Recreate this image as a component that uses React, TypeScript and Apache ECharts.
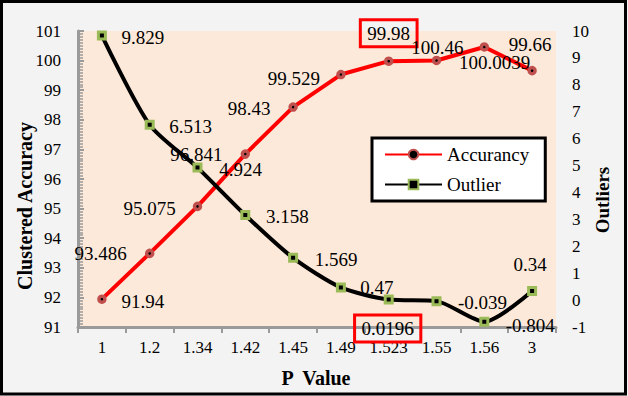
import React, { useEffect, useRef } from "react";
import * as echarts from "echarts";

const categories = ["1", "1.2", "1.34", "1.42", "1.45", "1.49", "1.523", "1.55", "1.56", "3"];
const accuracy = [91.94, 93.486, 95.075, 96.841, 98.43, 99.529, 99.98, 100.0039, 100.46, 99.66];
const outliers = [9.829, 6.513, 4.924, 3.158, 1.569, 0.47, 0.0196, -0.039, -0.804, 0.34];
const leftAxis = { min: 91, max: 101, interval: 1 };
const rightAxis = { min: -1, max: 10, interval: 1 };
const highlighted = ["1.523"];

// label layout (pixel offsets from each point), not data
const accOffsets = [[41, 2], [-49, 0], [-48, 2], [-49, 0], [-44, 1], [-47, 4], [0, -28], [58, 2], [-47, 1], [-2, -26]];
const outOffsets = [[41, 2], [41, 2], [43, 2], [42, 1], [43, 2], [36, 0], [-1, 29], [46, 1], [46, 4], [-2, -26]];

const FONT = "Liberation Serif";

function makeData(values: number[], offsets: number[][]) {
  return values.map((v, i) => {
    const hl = highlighted.includes(categories[i]);
    return {
      value: v,
      label: hl
        ? { offset: offsets[i], borderColor: "#ff0000", borderWidth: 3, padding: [4, 7, 4, 7] }
        : { offset: offsets[i] },
    };
  });
}

export default function App() {
  const ref = useRef<HTMLDivElement>(null);
  useEffect(() => {
    if (!ref.current) return;
    const chart = echarts.init(ref.current, undefined, { renderer: "svg" });
    const labelBase = {
      show: true,
      position: "inside",
      align: "center",
      verticalAlign: "middle",
      color: "#000",
      fontFamily: FONT,
      fontSize: 19,
      textBorderWidth: 0,
    };
    const grey = "#9a9a9a";
    chart.setOption({
      animation: false,
      backgroundColor: "#f3f3f3",
      textStyle: { fontFamily: FONT },
      grid: {
        left: 78,
        right: 72,
        top: 31,
        bottom: 69,
        show: true,
        backgroundColor: "#fde9d9",
        borderWidth: 0,
      },
      legend: {
        left: 372,
        top: 138,
        orient: "vertical",
        backgroundColor: "#ffffff",
        borderColor: "#000",
        borderWidth: 3,
        borderRadius: 0,
        padding: [7, 16, 7, 12],
        itemWidth: 57,
        itemHeight: 12,
        itemGap: 11,
        textStyle: { fontFamily: FONT, fontSize: 19, color: "#000" },
        data: ["Accurancy", "Outlier"],
      },
      xAxis: {
        type: "category",
        data: categories,
        boundaryGap: true,
        axisLine: { show: true, onZero: false, lineStyle: { color: grey, width: 3 } },
        axisTick: { show: true, alignWithLabel: false, interval: 0, length: 6, lineStyle: { color: grey, width: 2 } },
        axisLabel: { color: "#000", fontFamily: FONT, fontSize: 17, margin: 12, interval: 0 },
        splitLine: { show: false },
      },
      yAxis: [
        {
          type: "value",
          min: leftAxis.min,
          max: leftAxis.max,
          interval: leftAxis.interval,
          axisLine: { show: true, onZero: false, lineStyle: { color: grey, width: 3 } },
          axisTick: { show: true, inside: true, length: 6, lineStyle: { color: grey, width: 2 } },
          minorTick: { show: true, splitNumber: 10, length: 5, lineStyle: { color: grey, width: 1.5 } },
          axisLabel: { color: "#000", fontFamily: FONT, fontSize: 17, margin: 17 },
          splitLine: { show: false },
          minorSplitLine: { show: false },
        },
        {
          type: "value",
          min: rightAxis.min,
          max: rightAxis.max,
          interval: rightAxis.interval,
          position: "right",
          axisLine: { show: false, onZero: false },
          axisTick: { show: false },
          axisLabel: { color: "#000", fontFamily: FONT, fontSize: 17, margin: 16 },
          splitLine: { show: false },
        },
      ],
      graphic: [
        {
          type: "rect",
          shape: { x: 1.5, y: 1.5, width: 624, height: 392.5 },
          style: { fill: "none", stroke: "#000", lineWidth: 3 },
          silent: true,
          z: 100,
        },
        {
          type: "text",
          x: 25,
          y: 206,
          rotation: Math.PI / 2,
          style: {
            text: "Clustered Accuracy",
            font: `bold 20px ${FONT}`,
            fill: "#000",
            textAlign: "center",
            textVerticalAlign: "middle",
          },
        },
        {
          type: "text",
          x: 602,
          y: 200,
          rotation: Math.PI / 2,
          style: {
            text: "Outliers",
            font: `bold 19px ${FONT}`,
            fill: "#000",
            textAlign: "center",
            textVerticalAlign: "middle",
          },
        },
        {
          type: "text",
          x: 316,
          y: 378,
          style: {
            text: "P  Value",
            font: `bold 20px ${FONT}`,
            fill: "#000",
            textAlign: "center",
            textVerticalAlign: "middle",
          },
        },
      ],
      series: [
        {
          name: "Accurancy",
          type: "line",
          yAxisIndex: 0,
          data: makeData(accuracy, accOffsets),
          symbol: "circle",
          symbolSize: 6,
          showAllSymbol: true,
          lineStyle: { color: "#ff0000", width: 4 },
          itemStyle: { color: "#000", borderColor: "#c0504d", borderWidth: 3.5 },
          label: labelBase,
          emphasis: { disabled: true },
        },
        {
          name: "Outlier",
          type: "line",
          yAxisIndex: 1,
          data: makeData(outliers, outOffsets),
          symbol: "rect",
          symbolSize: 7,
          showAllSymbol: true,
          smooth: 0.25,
          lineStyle: { color: "#000", width: 4 },
          itemStyle: { color: "#000", borderColor: "#9bbb59", borderWidth: 3 },
          label: labelBase,
          emphasis: { disabled: true },
        },
      ],
    });
    return () => chart.dispose();
  }, []);
  return (
    <div
      ref={ref}
      style={{ position: "fixed", left: 0, top: 0, width: 628, height: 396 }}
    />
  );
}
